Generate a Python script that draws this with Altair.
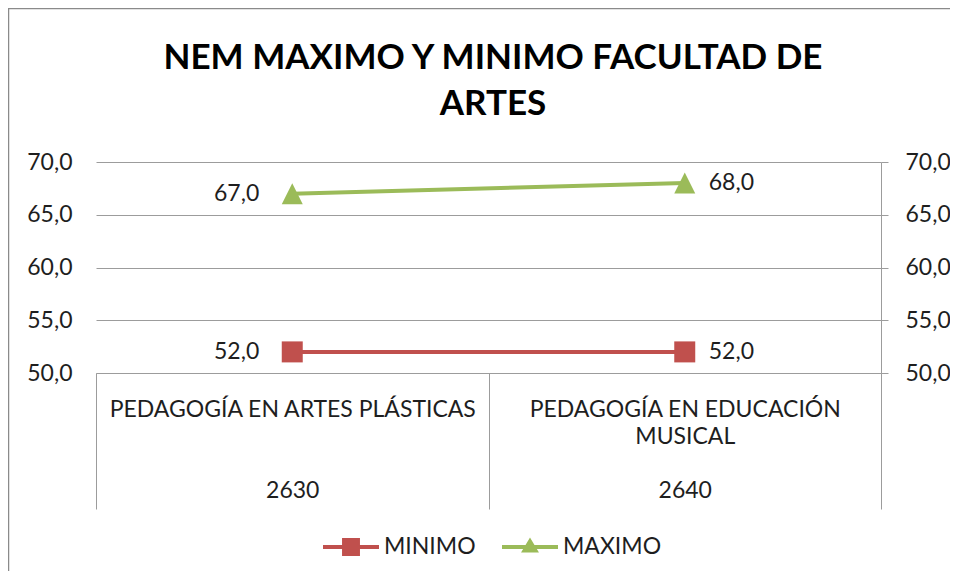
import altair as alt
import pandas as pd

# ---------------- data ----------------
categories = ["PEDAGOGÍA EN ARTES PLÁSTICAS", "PEDAGOGÍA EN EDUCACIÓN|MUSICAL"]
codes = ["2630", "2640"]
series_names = ["MINIMO", "MAXIMO"]
minimo = [52.0, 52.0]
maximo = [67.0, 68.0]
y_ticks = [50, 55, 60, 65, 70]
series_colors = ["#C0504D", "#9BBB59"]
title_lines = ["NEM MAXIMO Y MINIMO FACULTAD DE", "ARTES"]

FONT = "Lato"
TEXT = "#1e1e1e"
GRID = "#9c9c9c"
BLANK = "\u200b"


def make_key(cat, code):
    lines = cat.split("|")
    lines = lines + [BLANK] * (3 - len(lines)) + [code]
    return "|".join(lines)


keys = [make_key(c, k) for c, k in zip(categories, codes)]

rows = []
for i, k in enumerate(keys):
    rows.append({"cat": k, "idx": i, "series": "MINIMO", "value": minimo[i]})
    rows.append({"cat": k, "idx": i, "series": "MAXIMO", "value": maximo[i]})
df = pd.DataFrame(rows)
df["label"] = df["value"].map(lambda v: f"{v:.1f}".replace(".", ","))

# ---------------- scales / axes ----------------
xscale = alt.Scale(type="band", domain=keys, paddingInner=0, paddingOuter=0)
yscale = alt.Scale(domain=[50, 70], nice=False, zero=False)
cscale = alt.Scale(domain=series_names, range=series_colors)

label_expr_y = "replace(format(datum.value, '.1f'), '.', ',')"

x_axis = alt.Axis(
    orient="bottom", title=None, domain=True, domainColor=GRID, domainWidth=1,
    ticks=True, tickColor=GRID, tickWidth=1, tickSize=136, tickBand="extent",
    grid=False, labelAngle=0, labelAlign="center", labelBaseline="top",
    labelPadding=-111, labelFont=FONT, labelFontSize=23, labelColor=TEXT,
    labelLineHeight=27, labelLimit=1000, labelOverlap=False,
    labelExpr="isValid(datum.value) ? split(datum.value, '|') : ''",
)
y_axis_left = alt.Axis(
    orient="left", title=None, values=y_ticks, domain=False, ticks=False,
    grid=True, gridColor=GRID, gridWidth=1, labelPadding=24,
    labelFont=FONT, labelFontSize=23, labelColor=TEXT, labelExpr=label_expr_y,
)
y_axis_right = alt.Axis(
    orient="right", title=None, values=y_ticks, domain=True, domainColor=GRID,
    ticks=True, tickColor=GRID, tickSize=7, grid=False, labelPadding=17,
    labelFont=FONT, labelFontSize=23, labelColor=TEXT, labelExpr=label_expr_y,
)

base = alt.Chart(df)
is_min = alt.datum.series == "MINIMO"
is_max = alt.datum.series == "MAXIMO"

line_min = base.mark_line(strokeWidth=4, color=series_colors[0]).encode(
    y=alt.Y("value:Q", scale=yscale, axis=y_axis_left),
).transform_filter(is_min)

line_max = base.mark_line(strokeWidth=4, color=series_colors[1]).encode(
    y=alt.Y("value:Q", scale=yscale, axis=None),
).transform_filter(is_max)

squares = base.mark_point(
    shape="square", filled=True, size=441, opacity=1, strokeWidth=0, color=series_colors[0]
).encode(
    y=alt.Y("value:Q", scale=yscale, axis=y_axis_right),
).transform_filter(is_min)

triangles = base.mark_point(
    shape="M0,-1L1,1L-1,1Z", filled=True, size=441, opacity=1, strokeWidth=0, color=series_colors[1]
).encode(
    y=alt.Y("value:Q", scale=yscale, axis=None),
).transform_filter(is_max)

labels_left = base.mark_text(
    align="right", baseline="middle", dx=-33, font=FONT, fontSize=23, color=TEXT
).encode(
    y=alt.Y("value:Q", scale=yscale, axis=None),
    text="label:N",
).transform_filter(alt.datum.idx == 0)

labels_right = base.mark_text(
    align="left", baseline="middle", dx=24, font=FONT, fontSize=23, color=TEXT
).encode(
    y=alt.Y("value:Q", scale=yscale, axis=None),
    text="label:N",
).transform_filter(alt.datum.idx == 1)

legend_paths = [
    "M-1,-0.07L-0.32,-0.07L-0.32,-0.32L0.32,-0.32L0.32,-0.07L1,-0.07L1,0.07L0.32,0.07L0.32,0.32L-0.32,0.32L-0.32,0.07L-1,0.07Z",
    "M-1,-0.07L1,-0.07L1,0.07L-1,0.07Z M0,-0.34L0.32,0.2L-0.32,0.2Z",
]
legend_props = dict(
    title=None, orient="none", legendX=227, legendY=357, direction="horizontal",
    labelFont=FONT, labelFontSize=23, labelColor=TEXT, symbolSize=3136,
    symbolStrokeWidth=0, symbolOpacity=1, columnPadding=26, labelOffset=5,
    padding=0,
)

legend_layer = base.mark_point(filled=True, size=0, opacity=1).encode(
    y=alt.Y("value:Q", scale=yscale, axis=None),
    color=alt.Color("series:N", scale=cscale, legend=alt.Legend(**legend_props)),
    shape=alt.Shape(
        "series:N", scale=alt.Scale(domain=series_names, range=legend_paths),
        legend=alt.Legend(**legend_props),
    ),
)

deco = alt.Chart(alt.Data(values=[{}]))
frame_left = deco.mark_rule(stroke="#8a8a8a", strokeWidth=1.5, clip=False).encode(
    x=alt.value(-87.5), y=alt.value(-154), y2=alt.value(420)
)
frame_top = deco.mark_rule(stroke="#8a8a8a", strokeWidth=1.5, clip=False).encode(
    x=alt.value(-88), x2=alt.value(860), y=alt.value(-153.5)
)
title = deco.mark_text(
    text=title_lines, font=FONT, fontSize=35, fontWeight="bold", color="#000000",
    align="center", baseline="alphabetic", lineHeight=46,
).encode(x=alt.value(397), y=alt.value(-93))

chart = alt.layer(
    frame_left, frame_top, title, line_min, line_max, squares, triangles,
    labels_left, labels_right, legend_layer
).encode(
    x=alt.X("cat:N", scale=xscale, axis=x_axis)
).resolve_axis(y="independent").properties(
    width=785,
    height=211,
    padding={"left": 88, "top": 154, "right": 69, "bottom": 198},
    autosize=alt.AutoSizeParams(type="none"),
    background="white",
).configure_view(stroke=None)

chart.save("out.html", embed_options={"renderer": "svg", "actions": False})
